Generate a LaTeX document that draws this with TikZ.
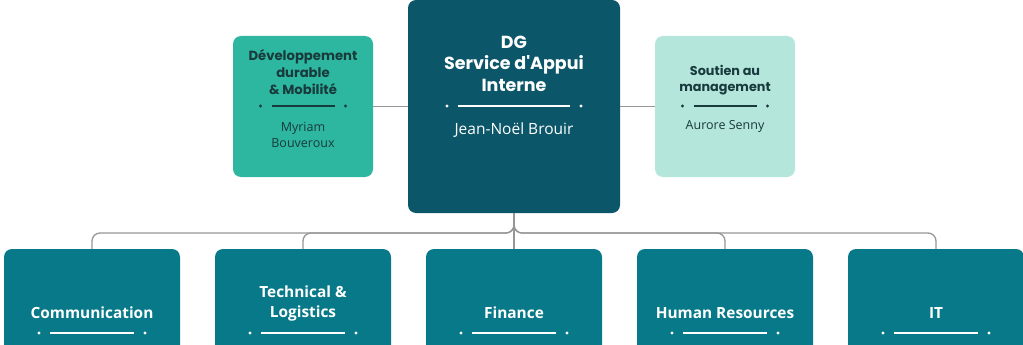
\documentclass[tikz,border=0pt]{standalone}
\usepackage{fontspec}
\setmainfont{Open Sans}
\newfontfamily\pop{Poppins}
\usetikzlibrary{calc}
\definecolor{maincol}{RGB}{12,86,105}
\definecolor{leftcol}{RGB}{45,183,160}
\definecolor{rightcol}{RGB}{180,230,219}
\definecolor{botcol}{RGB}{8,121,137}
\definecolor{darktxt}{RGB}{24,58,60}
\definecolor{linecol}{RGB}{150,150,150}
\tikzset{
  box/.style={fill=#1, draw=none, rounded corners=8pt, inner sep=0pt},
  conn/.style={draw=linecol, line width=1.3pt, rounded corners=8pt},
  ttl/.style={align=center, inner sep=0pt, text=#1},
}
\newcommand{\sepline}[4]{% center x, y, half dot offset, color
  \fill[#4] (#1-#3,#2) circle (1.7pt) (#1+#3,#2) circle (1.7pt);
  \draw[#4, line width=2.4pt] (#1-#3+11,#2) -- (#1+#3-11,#2);
}
\begin{document}
\begin{tikzpicture}[x=1pt,y=-1pt]
\useasboundingbox (0,0) rectangle (1023,345);
\clip (0,0) rectangle (1023,345);
% top boxes
\node[box=maincol, minimum width=212pt, minimum height=213pt] (main) at (514,106.5) {};
\node[box=leftcol, minimum width=140pt, minimum height=141pt] (left) at (303,106.5) {};
\node[box=rightcol, minimum width=140pt, minimum height=141pt] (right) at (725,106.5) {};
% bottom boxes
\node[box=botcol, minimum width=176pt, minimum height=130pt] (comm) at (92,314) {};
\node[box=botcol, minimum width=176pt, minimum height=130pt] (tech) at (303,314) {};
\node[box=botcol, minimum width=176pt, minimum height=130pt] (fin) at (514,314) {};
\node[box=botcol, minimum width=176pt, minimum height=130pt] (hr) at (725,314) {};
\node[box=botcol, minimum width=176pt, minimum height=130pt] (it) at (936,314) {};
% connectors
\coordinate (hub) at (514,233);
\draw[conn] (left.east) -- (left.east -| main.west);
\draw[conn] (right.west) -- (right.west -| main.east);
\draw[conn] (comm.north) |- (hub) -- (main.south);
\draw[conn] (tech.north) |- (hub) -- (main.south);
\draw[conn] (hr.north) |- (hub) -- (main.south);
\draw[conn] (it.north) |- (hub) -- (main.south);
\draw[conn] (main.south) -- (fin.north);
% main texts
\node[ttl=white, font=\pop\bfseries\fontsize{17.5}{21.5}\selectfont] (mt) at (514,63.5) {DG\\Service d'Appui\\Interne};
\node[ttl=white, font=\fontsize{15.5}{18}\selectfont] (mn) at (514,130) {Jean-Noël Brouir};
\sepline{514}{106}{67}{white}
% left texts
\node[ttl=darktxt, font=\pop\bfseries\fontsize{13.2}{17}\selectfont] (lt) at (303,72) {Développement\\durable\\\& Mobilité};
\node[ttl=darktxt, font=\fontsize{12.5}{16}\selectfont] (ln) at (303,135) {Myriam\\Bouveroux};
\sepline{303}{106}{42.5}{darktxt}
% right texts
\node[ttl=darktxt, font=\pop\bfseries\fontsize{12.8}{16.5}\selectfont] (rt) at (725,80) {Soutien au\\management};
\node[ttl=darktxt, font=\fontsize{12.5}{14}\selectfont] (rn) at (725,126) {Aurore Senny};
\sepline{725}{106}{42.5}{darktxt}
% bottom texts
\node[ttl=white, font=\bfseries\fontsize{15.4}{20}\selectfont] (ct) at (92,313) {Communication};
\node[ttl=white, font=\bfseries\fontsize{15.4}{20}\selectfont] (tt) at (303,303) {Technical \&\\Logistics};
\node[ttl=white, font=\bfseries\fontsize{15.4}{20}\selectfont] (ft) at (514,313) {Finance};
\node[ttl=white, font=\bfseries\fontsize{15.4}{20}\selectfont] (ht) at (725,313) {Human Resources};
\node[ttl=white, font=\bfseries\fontsize{15.4}{20}\selectfont] (itt) at (936,313) {IT};
\foreach \cx in {92,303,514,725,936} {\sepline{\cx}{333}{53}{white}}
\end{tikzpicture}
\end{document}
